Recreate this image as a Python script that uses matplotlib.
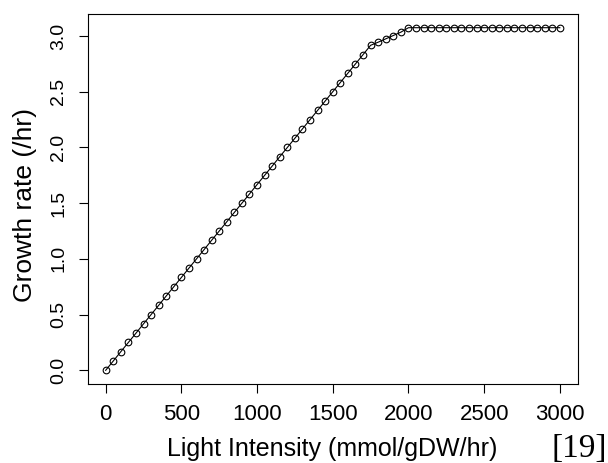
import matplotlib
matplotlib.use("Agg")
import matplotlib.pyplot as plt

# light intensity (mmol/gDW/hr), one point every 50
light = [0, 50, 100, 150, 200, 250, 300, 350, 400, 450,
         500, 550, 600, 650, 700, 750, 800, 850, 900, 950,
         1000, 1050, 1100, 1150, 1200, 1250, 1300, 1350, 1400, 1450,
         1500, 1550, 1600, 1650, 1700, 1750, 1800, 1850, 1900, 1950,
         2000, 2050, 2100, 2150, 2200, 2250, 2300, 2350, 2400, 2450,
         2500, 2550, 2600, 2650, 2700, 2750, 2800, 2850, 2900, 2950,
         3000]
# growth rate (/hr)
growth = [0.000, 0.083, 0.167, 0.250, 0.333, 0.417, 0.500, 0.583, 0.667, 0.750,
          0.833, 0.917, 1.000, 1.083, 1.167, 1.250, 1.333, 1.417, 1.500, 1.583,
          1.667, 1.750, 1.833, 1.917, 2.000, 2.083, 2.167, 2.250, 2.333, 2.417,
          2.500, 2.583, 2.667, 2.750, 2.833, 2.917, 2.945, 2.975, 3.005, 3.035,
          3.075, 3.075, 3.075, 3.075, 3.075, 3.075, 3.075, 3.075, 3.075, 3.075,
          3.075, 3.075, 3.075, 3.075, 3.075, 3.075, 3.075, 3.075, 3.075, 3.075,
          3.075]
xticks = [0, 500, 1000, 1500, 2000, 2500, 3000]
yticks = [0.0, 0.5, 1.0, 1.5, 2.0, 2.5, 3.0]

plt.rcParams['font.family'] = ['Liberation Sans', 'DejaVu Sans']

W, H = 608, 463
fig = plt.figure(figsize=(W / 100, H / 100), dpi=100)
# plot box: x 87.5..578, y 14..384 px
ax = fig.add_axes([87.5 / W, 1 - 384 / H, (578 - 87.5) / W, (384 - 14) / H])

ax.plot(light, growth, color='black', linewidth=0.8, marker='o', markersize=4.8,
        markerfacecolor='none', markeredgecolor='black', markeredgewidth=0.8)

# R style 4% padding
ax.set_xlim(-120, 3120)
ax.set_ylim(-0.123, 3.198)
ax.set_xticks(xticks)
ax.set_xticklabels([str(v) for v in xticks])
ax.set_yticks(yticks)
ax.set_yticklabels(['%.1f' % v for v in yticks], rotation=90, va='center')
ax.tick_params(direction='out', length=6.7, width=0.8)
ax.tick_params(axis='x', labelsize=16, pad=8)
ax.tick_params(axis='y', labelsize=14, pad=8)
for s in ax.spines.values():
    s.set_linewidth(0.8)

fig.text(332.5 / W, 1 - 456 / H, 'Light Intensity (mmol/gDW/hr)', fontsize=18,
         ha='center', va='baseline')
fig.text(32 / W, 1 - 205 / H, 'Growth rate (/hr)', fontsize=19, rotation=90,
         rotation_mode='anchor', ha='center', va='baseline')
fig.text(607 / W, 1 - 457 / H, '[19]', family='Liberation Serif', fontsize=24,
         ha='right', va='baseline')

fig.savefig('out.png', dpi=100)
